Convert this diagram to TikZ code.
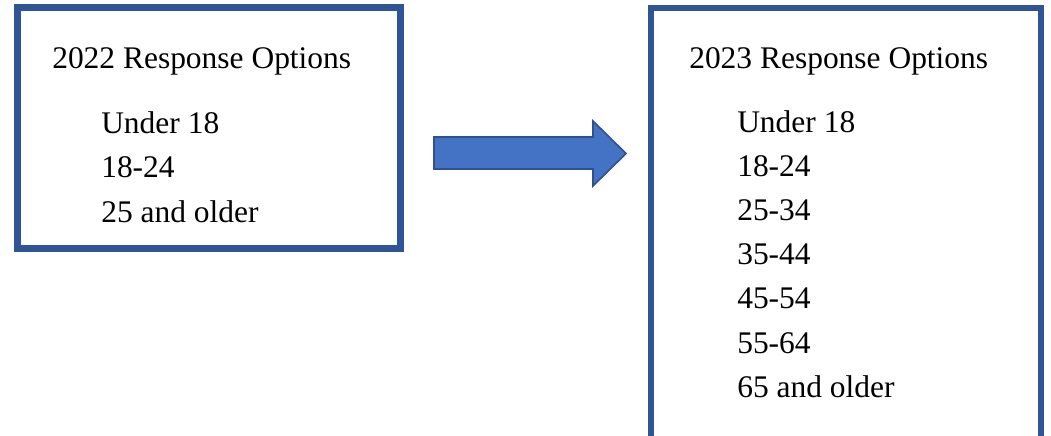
\documentclass[tikz,border=0pt]{standalone}
\usepackage{fontspec}
\setmainfont{Liberation Serif}
\usepackage{tikz}

\definecolor{boxblue}{HTML}{2F5597}
\definecolor{arrowfill}{HTML}{4472C4}
\definecolor{arrowedge}{HTML}{2F528F}

\tikzset{
  optbox/.style={draw=boxblue, line width=4.9pt},
  opttext/.style={anchor=base west, inner sep=0pt,
    font=\fontsize{23.6}{28}\selectfont},
}

\begin{document}
\begin{tikzpicture}[x=0.75pt, y=-0.75pt]
            \clip (0,0) rectangle (1051,436);

            % boxes
            \draw[optbox] (17.5,7.5) rectangle (400.5,248.5);
            \draw[optbox] (651,8) rectangle (1041,470);

            % block arrow
            \draw[fill=arrowfill, draw=arrowedge, line width=1.2pt]
              (434,137) -- (593,137) -- (593,121) -- (626,153.5)
              -- (593,186) -- (593,169) -- (434,169) -- cycle;

            % 2022
            \node[opttext] (old) at (52,68) {2022 Response Options};
            \foreach \t [count=\i from 0] in {Under 18, 18-24, 25 and older}
              \node[opttext] (old\i) at (101,133+44.5*\i) {\t};

            % 2023
            \node[opttext] (new) at (689,68) {2023 Response Options};
            \foreach \t [count=\i from 0] in {Under 18, 18-24, 25-34, 35-44, 45-54, 55-64, 65 and older}
              \node[opttext] (new\i) at (737,132+44.2*\i) {\t};
        \end{tikzpicture}
\end{document}
